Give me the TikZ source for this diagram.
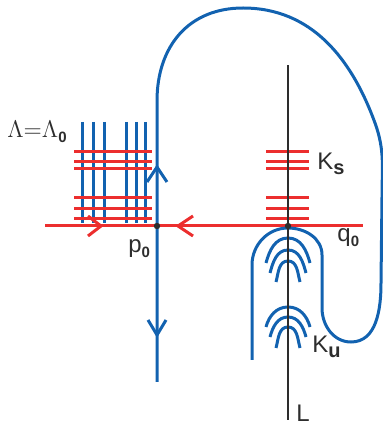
\documentclass[tikz,border=0pt]{standalone}
\usepackage{fontspec}
\setmainfont{Liberation Sans}
\definecolor{folblue}{RGB}{18,98,176}
\definecolor{folred}{RGB}{236,46,46}
\definecolor{axisgray}{RGB}{45,45,45}
\newcommand{\bsub}[2]{\raisebox{-2.4pt}{\fontsize{#1}{#1}\selectfont\bfseries #2}}
\tikzset{
  unst/.style={folblue, line width=1.5pt},
  stab/.style={folred, line width=1.5pt},
  lbl/.style={anchor=base west, inner sep=0pt, text=axisgray, font=\fontsize{12}{14}\selectfont},
}
\begin{document}
\begin{tikzpicture}[x=0.5pt, y=0.5pt]

  \useasboundingbox (0,0) rectangle (382,423);

  \foreach \x in {82,93,104,126,136,145} {
    \draw[unst] (\x,301) -- (\x,200);
  }

  \foreach \y in {271,261,254,225,214,204} {
    \draw[stab] (74,\y) -- (152,\y);
    \draw[stab] (266,\y) -- (309,\y);
  }

  \coordinate (p0) at (157,197);
  \coordinate (q0) at (288,197);
  \draw[stab] (45,197) -- (363,197);

  \draw[unst] (157,41) -- (157,322) to[out=90,in=180,looseness=1.1] (243,415)
    to[out=0,in=110] (375,300) to[out=-70,in=90] (382,226) -- (381,140)
    to[out=-90,in=0] (351,81) to[out=180,in=-90] (322,115) -- (322,168)
    to[out=90,in=0] (288,195) to[out=180,in=90] (252,158) -- (252,63);

  \foreach \t/\w/\e in {185/22/160, 173/18/150, 162/12/141, 116/22/96, 106/18/86, 96/12/75} {
    \draw[unst] ({288-\w},\e) to[out=75,in=180] (288,\t) to[out=0,in=105] ({288+\w},\e);
  }

  \draw[axisgray, line width=1.2pt] (288,3) -- (288,358);

  \draw[stab] (88,207) -- (101,197) -- (88,187);
  \draw[stab] (193,207) -- (178,197) -- (193,187);
  \draw[unst] (147,241) -- (157,256) -- (167,241);
  \draw[unst] (148,103) -- (157,88) -- (166,103);

  \fill[axisgray] (p0) circle[radius=1.6pt];
  \fill[axisgray] (q0) circle[radius=1.6pt];

  \node[lbl, font=\fontsize{12}{14}\selectfont] (lam) at (7,285) {$\Lambda{=}\Lambda$\bsub{7.5}{0}};
  \node[lbl] (p0lbl) at (128,170) {p\bsub{7.5}{0}};
  \node[lbl] (q0lbl) at (337,181) {q\bsub{7.5}{0}};
  \node[lbl] (ks) at (317,253) {K\bsub{10}{s}};
  \node[lbl] (ku) at (312,70) {K\bsub{10}{u}};
  \node[lbl] (ll) at (296,2) {L};

\end{tikzpicture}
\end{document}
